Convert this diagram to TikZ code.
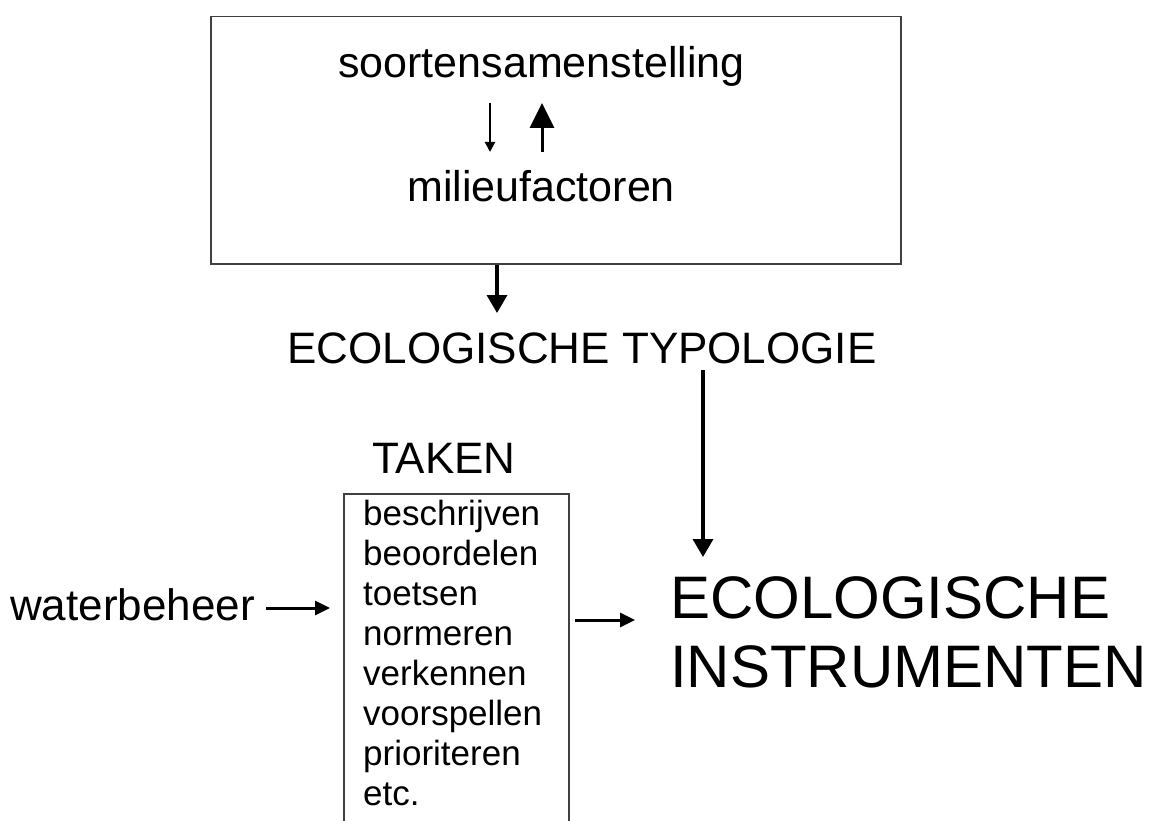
\documentclass[tikz,border=0pt]{standalone}
\usepackage{fontspec}
\setmainfont{Liberation Sans}
\usetikzlibrary{arrows.meta}
\begin{document}
\begin{tikzpicture}[x=1pt,y=-1pt,
  lbl/.style={inner sep=0pt, anchor=base west},
  fa/.style={font=\fontsize{43}{50}\selectfont},
  fd/.style={font=\fontsize{44}{50}\selectfont},
  fb/.style={font=\fontsize{35}{40}\selectfont},
  fc/.style={font=\fontsize{60}{69}\selectfont},
  frame/.style={draw=black!75, line width=1.5pt, inner sep=0pt, anchor=north west},
  thinarr/.style={line width=2pt, -{Triangle[length=10pt,width=10pt]}},
  bigarr/.style={line width=3pt, -{Triangle[length=25pt,width=24pt]}},
  mainarr/.style={line width=3.5pt, -{Triangle[length=18pt,width=20pt]}},
  harr/.style={line width=3pt, -{Triangle[length=15pt,width=14pt]}}]
\clip (0,0) rectangle (1156,821);
\fill[white] (0,0) rectangle (1156,821);
% top box
\node[frame, minimum width=690pt, minimum height=247pt] (topbox) at (210,16) {};
\node[lbl, fa] (soorten) at (338,78) {soortensamenstelling};
\node[lbl, fa] (milieu) at (407,202) {milieufactoren};
\coordinate (d1) at (490,103); \coordinate (d2) at (490,152);
\coordinate (u1) at (542,152); \coordinate (u2) at (542,103);
\draw[thinarr] (d1) -- (d2);
\draw[bigarr] (u1) -- (u2);
% typology
\node[lbl, fd] (typ) at (287,363) {ECOLOGISCHE TYPOLOGIE};
\coordinate (t1) at (497,313);
\draw[mainarr] (topbox.south -| t1) -- (t1);
% taken
\node[lbl, fd] (taken) at (372,473) {TAKEN};
\node[frame, minimum width=225pt, minimum height=360pt] (takenbox) at (343,493) {};
\foreach \w [count=\i from 0] in {beschrijven,beoordelen,toetsen,normeren,verkennen,voorspellen,prioriteren,etc.}{
  \node[lbl, fb] (task\i) at (363,{525+40*\i}) {\w};
}
\node[lbl, fd] (water) at (10,620) {waterbeheer};
\coordinate (w1) at (266,608); \coordinate (w2) at (330,608);
\draw[harr] (w1) -- (w2);
\coordinate (r1) at (575,620); \coordinate (r2) at (635,620);
\draw[harr] (r1) -- (r2);
% instruments
\node[lbl, fc] (eco) at (670,618) {ECOLOGISCHE};
\node[lbl, fc] (instr) at (670,687) {INSTRUMENTEN};
\coordinate (p1) at (703,370); \coordinate (p2) at (703,557);
\draw[mainarr] (p1) -- (p2);
\end{tikzpicture}
\end{document}
